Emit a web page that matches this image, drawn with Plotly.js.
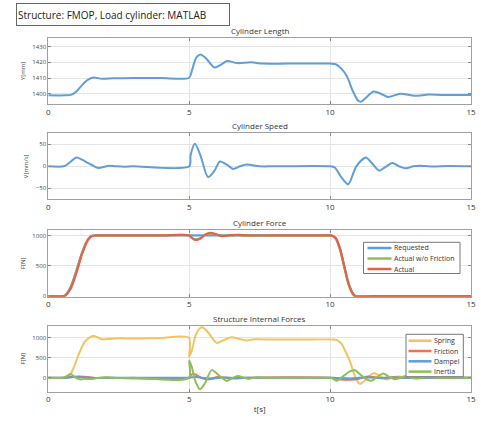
<!DOCTYPE html>
<html>
<head>
<meta charset="utf-8">
<script src="https://cdn.plot.ly/plotly-3.0.1.min.js"></script>
<style>html,body{margin:0;padding:0;background:#fff;}#chart{width:481px;height:422px;}</style>
</head>
<body>
<div id="chart"></div>
<script>
// ---- data ----
var xTicks = [0, 5, 10, 15];

// Cylinder Length [mm]
var tLen = [0, 0.6, 0.8, 1.0, 1.2, 1.4, 1.6, 1.9, 2.3, 3, 4, 5, 5.1, 5.25, 5.4, 5.6, 5.9, 6.1, 6.35, 6.7, 7.2, 7.6, 8.5, 10, 10.2, 10.4, 10.6, 10.8, 11.0, 11.1, 11.3, 11.55, 11.8, 12.05, 12.5, 13.0, 13.5, 14, 15];
var yLen = [1399, 1399, 1399.3, 1401.5, 1405.5, 1408.8, 1410.3, 1409.6, 1409.8, 1410, 1410, 1410.2, 1415, 1423, 1425, 1422.5, 1416.7, 1418.2, 1420.8, 1419.5, 1420, 1419.2, 1419.2, 1419.2, 1418.8, 1416, 1411, 1402, 1395.5, 1395, 1398, 1401.5, 1400, 1398, 1400, 1398.7, 1399.5, 1399.2, 1399.2];

// Cylinder Speed [mm/s]
var tSpd = [0, 0.55, 0.75, 1.0, 1.2, 1.4, 1.55, 1.75, 2.0, 2.15, 2.4, 2.7, 3.0, 5, 5.05, 5.2, 5.4, 5.67, 5.9, 6.09, 6.35, 6.56, 6.8, 7.03, 7.5, 8, 10, 10.17, 10.4, 10.64, 10.93, 11.27, 11.47, 11.74, 12.0, 12.21, 12.45, 12.7, 12.95, 13.18, 13.4, 13.65, 14.2, 15];
var ySpd = [0, 0, 8, 20, 15, 8, 3, -3.5, -1, 1.5, 0, -1, 0, 0, 25, 51, 25, -24.5, -10, 11, 3, -6, 0, 4, 0, 0, 0, -3, -25, -41, 0, 20, 8, -9.6, 0, 7.5, 0, -4.5, 0, 1.5, 0.5, -0.5, 0.5, 0];

// Cylinder Force [N]
var forceNames = ['Requested', 'Actual w/o Friction', 'Actual'];
var tReq = [0, 0.5, 0.6, 0.8, 1.0, 1.2, 1.4, 1.52, 1.65, 2, 10, 10.05, 10.2, 10.35, 10.5, 10.65, 10.8, 10.9, 11.0, 15];
var yReq = [0, 0, 15, 160, 430, 720, 930, 990, 1000, 1000, 1000, 1000, 960, 790, 500, 220, 50, 0, 0, 0];
var tNoFr = [0, 0.5, 0.6, 0.8, 1.0, 1.2, 1.4, 1.55, 1.7, 2, 4, 5, 5.1, 5.22, 5.4, 5.55, 5.74, 5.95, 6.15, 6.4, 6.7, 7, 8, 10, 10.05, 10.2, 10.35, 10.5, 10.65, 10.8, 10.9, 11.0, 11.2, 11.5, 12, 15];
var yNoFr = [0, 0, 12, 140, 400, 710, 925, 992, 1000, 1000, 1000, 1000, 960, 935, 955, 1008, 1038, 1018, 992, 1000, 1006, 1000, 1000, 1000, 998, 950, 770, 485, 200, 40, -8, -12, -8, 0, 2, 0];
var tAct = [0, 0.5, 0.6, 0.8, 1.0, 1.2, 1.4, 1.55, 1.7, 2, 4, 5, 5.1, 5.22, 5.4, 5.55, 5.74, 5.95, 6.15, 6.4, 6.7, 7, 8, 10, 10.05, 10.2, 10.35, 10.5, 10.65, 10.8, 10.9, 11.0, 11.2, 11.5, 12, 15];
var yAct = [0, 0, 10, 130, 390, 700, 920, 990, 1000, 1000, 1000, 1000, 955, 925, 950, 1010, 1044, 1020, 990, 1000, 1008, 1000, 1000, 1000, 998, 955, 780, 500, 215, 50, 0, -12, -10, 0, 3, 0];

// Structure Internal Forces [N]
var structNames = ['Spring', 'Friction', 'Dampel', 'Inertia'];
var tSpr = [0, 0.6, 0.75, 0.9, 1.1, 1.3, 1.5, 1.62, 1.75, 1.9, 2.1, 2.5, 3, 4, 4.99, 5.0, 5.1, 5.25, 5.45, 5.65, 5.98, 6.2, 6.5, 6.75, 7.03, 7.3, 7.7, 9, 10.1, 10.25, 10.4, 10.55, 10.7, 10.85, 11.0, 11.08, 11.25, 11.45, 11.58, 11.75, 12.0, 12.2, 12.45, 12.75, 13.0, 13.4, 13.8, 15];
var ySpr = [0, 0, 40, 250, 620, 900, 1020, 1040, 1010, 960, 965, 985, 980, 995, 1000, 520, 700, 1100, 1260, 1150, 870, 930, 1010, 975, 930, 960, 955, 955, 955, 940, 850, 650, 420, 100, -120, -150, -60, 80, 110, 50, -45, 0, 30, 0, -15, 10, 0, 0];
var tFric = [0, 0.6, 0.8, 1.1, 1.4, 1.7, 2.0, 5, 5.05, 5.15, 5.3, 5.45, 5.6, 5.8, 6.0, 6.3, 6.6, 7, 10, 10.15, 10.4, 10.7, 10.95, 11.15, 11.35, 11.6, 11.9, 12.2, 12.6, 13, 15];
var yFric = [0, 0, 20, 30, 15, -10, 0, 0, 60, 90, 50, -10, -40, -30, 20, 0, -20, 0, 0, -20, -45, -50, -40, 0, 30, 10, -15, 10, -5, 0, 0];
var tDamp = [0, 0.6, 0.9, 1.2, 1.5, 1.8, 2.2, 5, 5.1, 5.25, 5.45, 5.7, 6.0, 6.3, 6.6, 7.0, 7.5, 10, 10.2, 10.5, 10.7, 10.95, 11.25, 11.5, 11.75, 12.05, 12.3, 12.7, 13.2, 15];
var yDamp = [0, 0, 15, 10, 0, -5, 0, 0, 10, 15, 0, -20, -10, 5, -5, 0, 0, 0, -5, -15, -20, -5, 10, 0, -8, 2, 4, -2, 0, 0];
var tIner = [0, 0.5, 0.65, 0.78, 0.9, 1.0, 1.15, 1.3, 1.55, 1.8, 2.1, 2.5, 3, 4.99, 5.0, 5.1, 5.2, 5.38, 5.55, 5.8, 6.05, 6.33, 6.55, 6.72, 6.95, 7.1, 7.4, 7.7, 10, 10.05, 10.23, 10.45, 10.7, 10.88, 11.1, 11.3, 11.47, 11.68, 11.88, 12.1, 12.3, 12.5, 12.7, 12.9, 13.1, 13.5, 13.9, 14.3, 15];
var yIner = [0, 0, 40, 90, 40, -10, -45, -25, -35, 0, 10, -10, 0, 0, 430, 250, -50, -290, -150, 190, 60, -80, 0, 45, 0, -30, 10, 0, 0, 0, -75, 30, 160, 185, 60, -40, -75, 20, 105, 20, -40, 0, 40, 0, -20, 15, -5, 0, 0];

// ---- colours ----
var cBlue = '#5f9ed8', cGreen = '#8cc05a', cRed = '#e8604c', cOrange = '#f2c265', cFric = '#ee7450';
var forceColors = [cBlue, cGreen, cRed];
var structColors = [cOrange, cFric, cBlue, cGreen];

var FONT = 'Open Sans, Lato, DejaVu Sans, sans-serif';
var W = 481, H = 422;
var xDom = [0.1004, 0.9792];
var yDoms = [[0.7536, 0.9100], [0.5277, 0.6841], [0.2969, 0.4550], [0.0718, 0.2282]];

function ln(x, y, name, color, xa, ya, w) {
  return {x: x, y: y, name: name, type: 'scatter', mode: 'lines',
    line: {color: color, width: w || 2, shape: 'spline', smoothing: 0.8},
    xaxis: xa, yaxis: ya, showlegend: false, hoverinfo: 'skip'};
}

var traces = [
  ln(tLen, yLen, 'Length', cBlue, 'x', 'y'),
  ln(tSpd, ySpd, 'Speed', cBlue, 'x2', 'y2'),
  ln(tReq, yReq, forceNames[0], forceColors[0], 'x3', 'y3', 2.2),
  ln(tNoFr, yNoFr, forceNames[1], forceColors[1], 'x3', 'y3', 2.2),
  ln(tAct, yAct, forceNames[2], forceColors[2], 'x3', 'y3', 2.2),
  ln(tSpr, ySpr, structNames[0], structColors[0], 'x4', 'y4'),
  ln(tFric, yFric, structNames[1], structColors[1], 'x4', 'y4'),
  ln(tDamp, yDamp, structNames[2], structColors[2], 'x4', 'y4'),
  ln(tIner, yIner, structNames[3], structColors[3], 'x4', 'y4')
];

function xax(anchor) {
  return {domain: xDom, anchor: anchor, range: [0, 15], tickvals: xTicks,
    ticktext: xTicks.map(String), showgrid: true, gridcolor: '#e4e4e4', gridwidth: 1,
    zeroline: false, showline: true, linecolor: '#a0a0a0', linewidth: 1, mirror: 'ticks',
    ticks: 'inside', ticklen: 3, tickcolor: '#8a8a8a',
    tickfont: {size: 8, color: '#333', family: FONT}, automargin: false};
}
function yax(anchor, dom, range, ticks, title) {
  return {domain: dom, anchor: anchor, range: range, tickvals: ticks,
    showgrid: true, gridcolor: '#e4e4e4', gridwidth: 1, zeroline: false,
    showline: true, linecolor: '#a0a0a0', linewidth: 1, mirror: 'ticks',
    ticks: 'inside', ticklen: 3, tickcolor: '#8a8a8a',
    tickfont: {size: 6, color: '#444', family: FONT},
    title: {text: title, font: {size: 6, color: '#444', family: FONT}, standoff: 6},
    automargin: false};
}

var x4 = xax('y4');
x4.title = {text: 't[s]', font: {size: 8, color: '#333', family: FONT}, standoff: 3};

function ptitle(txt, dom) {
  return {text: txt, xref: 'paper', yref: 'paper', x: (xDom[0] + xDom[1]) / 2,
    y: dom[1], xanchor: 'center', yanchor: 'bottom', yshift: 0, showarrow: false,
    font: {size: 8, color: '#333', family: FONT}};
}

// compact boxed legends (pixel placement converted to paper coords)
var shapes = [], annotations = [];
function px(v) { return v / W; }
function py(v) { return 1 - v / H; }
function addLegend(names, colors, box, lineX0, lineX1, textX, itemY0, step) {
  shapes.push({type: 'rect', xref: 'paper', yref: 'paper', x0: px(box[0]), x1: px(box[2]),
    y0: py(box[3]), y1: py(box[1]), line: {color: '#777', width: 1}, fillcolor: '#fff', layer: 'above'});
  names.forEach(function (n, i) {
    var yy = itemY0 + i * step;
    shapes.push({type: 'line', xref: 'paper', yref: 'paper', x0: px(lineX0), x1: px(lineX1),
      y0: py(yy), y1: py(yy), line: {color: colors[i], width: 2.5}, layer: 'above'});
    annotations.push({text: n, xref: 'paper', yref: 'paper', x: px(textX), y: py(yy),
      xanchor: 'left', yanchor: 'middle', showarrow: false,
      font: {size: 7, color: '#333', family: FONT}});
  });
}
addLegend(forceNames, forceColors, [363.5, 242.3, 460, 273.5], 367.5, 391.5, 391.5, 248, 10.5);
addLegend(structNames, structColors, [406, 334.3, 463.3, 376.7], 408.5, 431.5, 431.5, 340.7, 10.3);

annotations.push(
  {text: 'Structure: FMOP, Load cylinder: MATLAB', xref: 'paper', yref: 'paper',
    x: px(16), y: py(3), xanchor: 'left', yanchor: 'top', showarrow: false,
    align: 'left', width: 210, height: 19, borderpad: 1, bordercolor: '#666', borderwidth: 1,
    bgcolor: '#fff', font: {size: 10, color: '#222', family: FONT}},
  ptitle('Cylinder Length', yDoms[0]),
  ptitle('Cylinder Speed', yDoms[1]),
  ptitle('Cylinder Force', yDoms[2]),
  ptitle('Structure Internal Forces', yDoms[3])
);

var layout = {
  width: W, height: H,
  margin: {l: 0, r: 0, t: 0, b: 0},
  paper_bgcolor: '#fff', plot_bgcolor: '#fff',
  font: {family: FONT},
  showlegend: false,
  xaxis: xax('y'), xaxis2: xax('y2'), xaxis3: xax('y3'), xaxis4: x4,
  yaxis: yax('x', yDoms[0], [1393.5, 1435.5], [1400, 1410, 1420, 1430], 'Y[mm]'),
  yaxis2: yax('x2', yDoms[1], [-75, 75], [-50, 0, 50], 'V[mm/s]'),
  yaxis3: yax('x3', yDoms[2], [-8, 1090], [0, 500, 1000], 'F[N]'),
  yaxis4: yax('x4', yDoms[3], [-350, 1300], [0, 500, 1000], 'F[N]'),
  shapes: shapes,
  annotations: annotations
};

Plotly.newPlot('chart', traces, layout, {displayModeBar: false, staticPlot: true});
</script>
</body>
</html>
